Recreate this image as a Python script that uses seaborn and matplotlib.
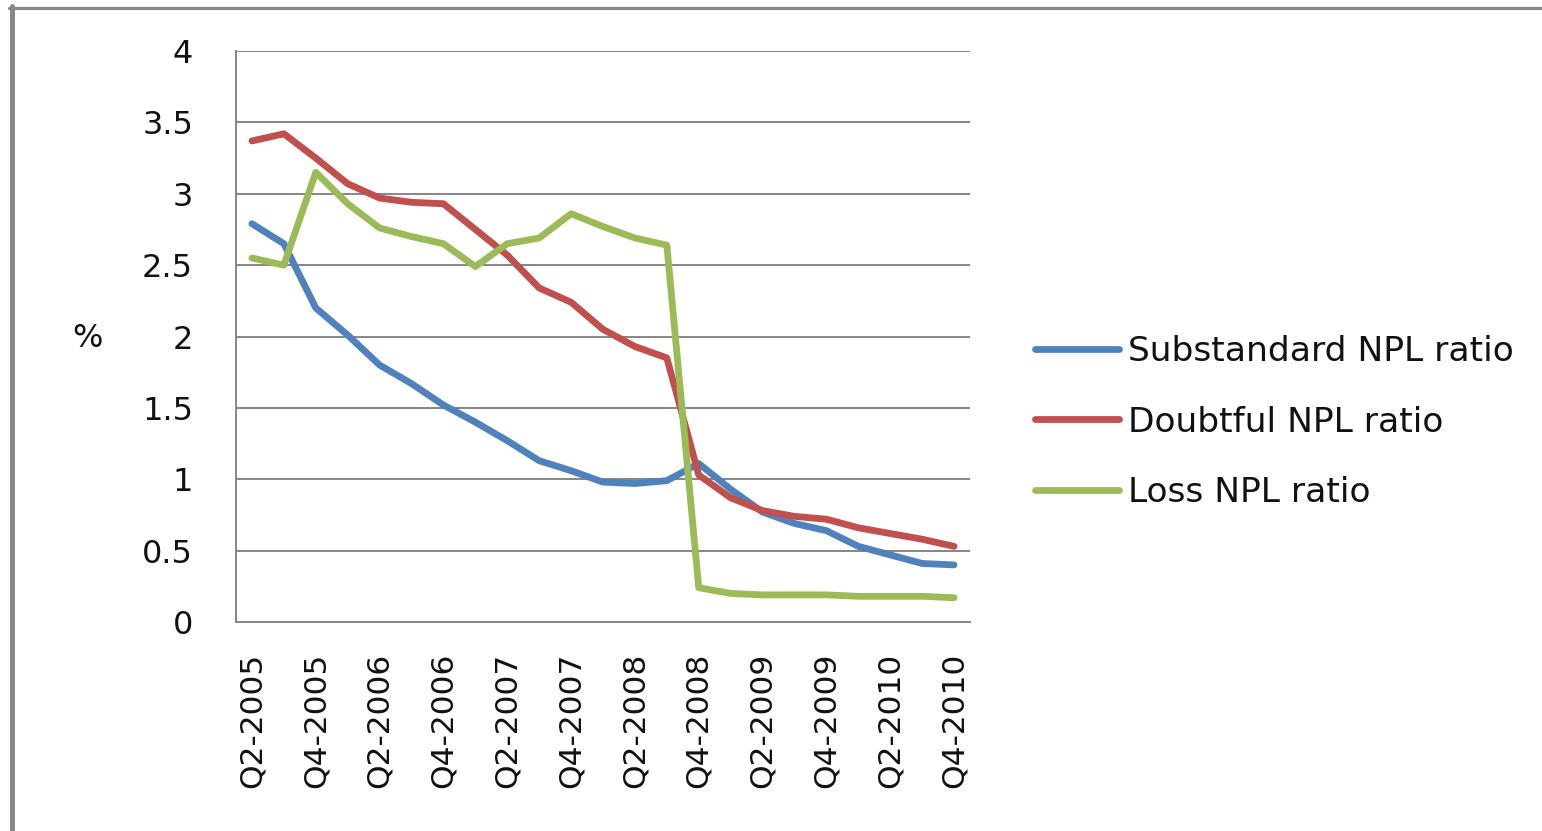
import matplotlib
matplotlib.use("Agg")
import matplotlib.pyplot as plt
from matplotlib.lines import Line2D
import seaborn as sns
import pandas as pd

# Quarterly NPL ratios (%) by loan classification, Q2-2005 .. Q4-2010
quarters = [
    "Q2-2005", "Q3-2005", "Q4-2005", "Q1-2006", "Q2-2006", "Q3-2006",
    "Q4-2006", "Q1-2007", "Q2-2007", "Q3-2007", "Q4-2007", "Q1-2008",
    "Q2-2008", "Q3-2008", "Q4-2008", "Q1-2009", "Q2-2009", "Q3-2009",
    "Q4-2009", "Q1-2010", "Q2-2010", "Q3-2010", "Q4-2010",
]
substandard = [2.79, 2.65, 2.20, 2.01, 1.80, 1.67, 1.52, 1.40, 1.27, 1.13,
               1.06, 0.98, 0.97, 0.99, 1.11, 0.93, 0.77, 0.69, 0.64, 0.53,
               0.47, 0.41, 0.40]
doubtful = [3.37, 3.42, 3.25, 3.07, 2.97, 2.94, 2.93, 2.75, 2.57, 2.34,
            2.24, 2.05, 1.93, 1.85, 1.03, 0.87, 0.78, 0.74, 0.72, 0.66,
            0.62, 0.58, 0.53]
loss = [2.55, 2.50, 3.15, 2.93, 2.76, 2.70, 2.65, 2.49, 2.65, 2.69,
        2.86, 2.77, 2.69, 2.64, 0.24, 0.20, 0.19, 0.19, 0.19, 0.18,
        0.18, 0.18, 0.17]
series_names = ["Substandard NPL ratio", "Doubtful NPL ratio", "Loss NPL ratio"]
series_colors = ["#4F81BD", "#C0504D", "#9BBB59"]
y_ticks = [0, 0.5, 1, 1.5, 2, 2.5, 3, 3.5, 4]

frames = []
for name, vals in zip(series_names, [substandard, doubtful, loss]):
    frames.append(pd.DataFrame({"idx": range(len(quarters)),
                                "quarter": quarters,
                                "value": vals,
                                "series": name}))
df = pd.concat(frames, ignore_index=True)

sns.set_style("white")
plt.rcParams["font.family"] = ["DejaVu Sans"]

W, H = 1542, 831
LW = 4.9
fig = plt.figure(figsize=(W / 100, H / 100), dpi=100)
ax = fig.add_axes([236 / W, 1 - 622 / H, (970 - 236) / W, (622 - 51) / H])

sns.lineplot(data=df, x="idx", y="value", hue="series",
             hue_order=series_names, palette=series_colors,
             linewidth=LW, sort=False, ax=ax, legend=False,
             solid_capstyle="round", solid_joinstyle="round")

ax.set_xlim(-0.5, len(quarters) - 0.5)
ax.set_ylim(0, 4)
ax.set_yticks(y_ticks)
ax.set_yticklabels([f"{t:g}" for t in y_ticks])
ax.set_xticks(range(0, len(quarters), 2))
ax.set_xticklabels(quarters[::2], rotation=90)
ax.tick_params(axis="y", length=0, pad=31, labelsize=23, labelcolor="#111111")
ax.tick_params(axis="x", length=0, pad=22, labelsize=22.5, labelcolor="#111111")

ax.yaxis.grid(True, color="#868686", linewidth=1.4)
ax.set_axisbelow(True)
for side in ["top", "right"]:
    ax.spines[side].set_visible(False)
for side in ["left", "bottom"]:
    ax.spines[side].set_color("#868686")
    ax.spines[side].set_linewidth(1.4)

ax.set_xlabel("")
ax.set_ylabel("%", rotation=0, fontsize=23, color="#111111")
ax.yaxis.set_label_coords((87 - 236) / (970 - 236), (622 - 338) / (622 - 51))
ax.yaxis.label.set_verticalalignment("center")
ax.yaxis.label.set_horizontalalignment("center")

handles = [Line2D([0], [0], color=c, linewidth=LW, solid_capstyle="round")
           for c in series_colors]
fig.legend(handles, series_names, loc="center left",
           bbox_to_anchor=(1035 / W, 1 - 422 / H),
           bbox_transform=fig.transFigure, frameon=False,
           fontsize=24.8, handlelength=2.45, handletextpad=0.25,
           labelspacing=1.08, borderpad=0, borderaxespad=0,
           labelcolor="#111111")

# outer frame edges
fig.add_artist(Line2D([9 / W, 1], [1 - 7.5 / H, 1 - 7.5 / H],
                      transform=fig.transFigure, color="#888888", linewidth=2.3))
fig.add_artist(Line2D([11.5 / W, 11.5 / W], [0, 1 - 6 / H],
                      transform=fig.transFigure, color="#888888", linewidth=3.6))

fig.savefig("out.png", dpi=100, facecolor="white")
